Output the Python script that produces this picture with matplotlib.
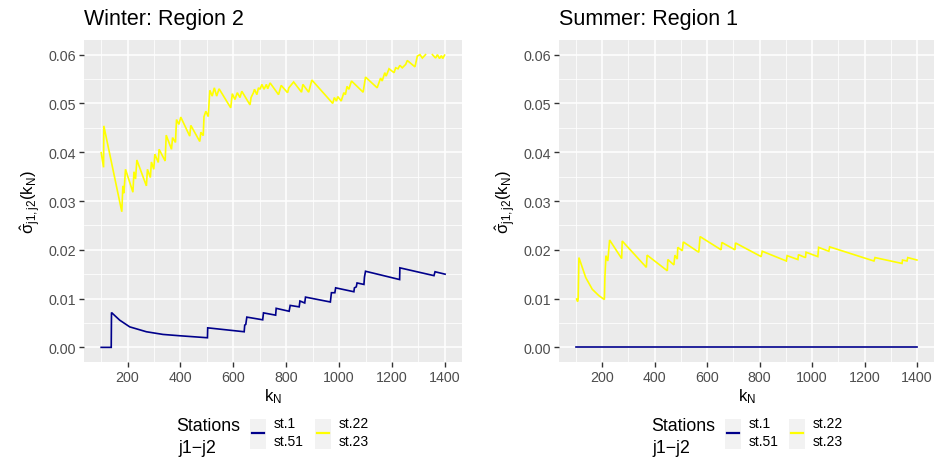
import numpy as np
import matplotlib
matplotlib.use("Agg")
import matplotlib.pyplot as plt
from matplotlib.patches import Rectangle
from matplotlib.lines import Line2D

plt.rcParams['font.family'] = ['Liberation Sans', 'DejaVu Sans']
plt.rcParams['mathtext.fontset'] = 'custom'
plt.rcParams['mathtext.rm'] = 'Liberation Sans'
plt.rcParams['mathtext.it'] = 'Liberation Sans'
plt.rcParams['mathtext.bf'] = 'Liberation Sans:bold'

# ---------------- data ----------------
panel_titles = ["Winter: Region 2", "Summer: Region 1"]
series_labels = ["st.1\nst.51", "st.22\nst.23"]
series_colors = ["#00008B", "#FFFF00"]
x_ticks = [200, 400, 600, 800, 1000, 1200, 1400]
y_ticks = [0.00, 0.01, 0.02, 0.03, 0.04, 0.05, 0.06]

winter_st1_x = [100, 138, 139, 170, 208, 271, 334, 397, 502, 503, 641, 643, 647, 651, 711, 714,
                760, 762, 811, 815, 849, 852, 870, 873, 967, 971, 984, 987, 1056, 1058, 1065,
                1068, 1094, 1096, 1100, 1229, 1230, 1359, 1363, 1401]
winter_st1_y = [0.0, 0.0, 0.00714, 0.00558, 0.0042, 0.0032, 0.00265, 0.00238, 0.00197, 0.0040,
                0.0032, 0.00456, 0.0047, 0.0062, 0.00565, 0.00707, 0.0066, 0.0080, 0.0074, 0.0086,
                0.0083, 0.0095, 0.0091, 0.0103, 0.0093, 0.0112, 0.0112, 0.0122, 0.0114, 0.0122,
                0.0124, 0.0132, 0.0129, 0.0144, 0.0156, 0.0139, 0.0163, 0.0147, 0.0155, 0.0150]

winter_st22_x = [100, 109, 110, 178, 182, 186, 192, 220, 224, 230, 235, 271, 275, 286, 290, 299,
                 303, 316, 319, 342, 346, 366, 370, 381, 385, 394, 401, 435, 439, 473, 477, 486,
                 489, 496, 505, 511, 520, 528, 537, 546, 590, 596, 606, 615, 625, 632, 663, 667,
                 676, 680, 689, 695, 701, 708, 716, 725, 730, 739, 771, 781, 805, 810, 828, 858,
                 863, 885, 897, 976, 982, 990, 995, 1008, 1018, 1024, 1030, 1037, 1047, 1091,
                 1100, 1144, 1157, 1163, 1173, 1178, 1189, 1208, 1214, 1223, 1230, 1239, 1252,
                 1258, 1287, 1296, 1306, 1315, 1327, 1340, 1353, 1365, 1372, 1380, 1387, 1392, 1399]
winter_st22_y = [0.0399, 0.0369, 0.0454, 0.0278, 0.0331, 0.0316, 0.0365, 0.0318, 0.0360, 0.0345,
                 0.0384, 0.0331, 0.0365, 0.0348, 0.0380, 0.0365, 0.0396, 0.0379, 0.0406, 0.0382,
                 0.0435, 0.0406, 0.0430, 0.0420, 0.0467, 0.0457, 0.0472, 0.0433, 0.0455, 0.0422,
                 0.0441, 0.0434, 0.0473, 0.0484, 0.0473, 0.0527, 0.0515, 0.0532, 0.0515, 0.0530,
                 0.0491, 0.0520, 0.0508, 0.0522, 0.0512, 0.0525, 0.0497, 0.0512, 0.0522, 0.0529,
                 0.0518, 0.0532, 0.0529, 0.0539, 0.0529, 0.0539, 0.0530, 0.0542, 0.0518, 0.0537,
                 0.0522, 0.0532, 0.0544, 0.0523, 0.0539, 0.0523, 0.0548, 0.0500, 0.0512, 0.0505,
                 0.0514, 0.0505, 0.0522, 0.0518, 0.0535, 0.0529, 0.0546, 0.0523, 0.0554, 0.0532,
                 0.0552, 0.0546, 0.0563, 0.0556, 0.0571, 0.0563, 0.0573, 0.0571, 0.0578, 0.0573,
                 0.0580, 0.0588, 0.0575, 0.0597, 0.0600, 0.0593, 0.0600, np.nan, 0.0600, 0.0593,
                 0.0600, 0.0592, 0.0598, 0.0592, 0.0599]

summer_st1_x = [100, 1400]
summer_st1_y = [0.0, 0.0]

summer_st22_x = [102, 106, 108, 111, 137, 162, 187, 208, 210, 214, 221, 228, 274, 276, 368, 371,
                 448, 450, 473, 477, 486, 488, 505, 509, 568, 573, 653, 656, 706, 708, 806, 810,
                 902, 905, 946, 948, 975, 977, 1022, 1025, 1064, 1067, 1236, 1240, 1343, 1345,
                 1362, 1365, 1400]
summer_st22_y = [0.0099, 0.0094, 0.0099, 0.0184, 0.0143, 0.0119, 0.0106, 0.0098, 0.0143, 0.0188,
                 0.0177, 0.0220, 0.0182, 0.0218, 0.0164, 0.0189, 0.0157, 0.0180, 0.0169, 0.0189,
                 0.0181, 0.0205, 0.0198, 0.0216, 0.0195, 0.0227, 0.0200, 0.0215, 0.0200, 0.0214,
                 0.0186, 0.0197, 0.0177, 0.0188, 0.0180, 0.0190, 0.0184, 0.0195, 0.0186, 0.0205,
                 0.0197, 0.0206, 0.0177, 0.0184, 0.0172, 0.0179, 0.0177, 0.0184, 0.0179]

panels = [
    [(winter_st1_x, winter_st1_y), (winter_st22_x, winter_st22_y)],
    [(summer_st1_x, summer_st1_y), (summer_st22_x, summer_st22_y)],
]

# ---------------- figure ----------------
W, H = 936, 460
fig = plt.figure(figsize=(W / 100, H / 100), dpi=100)

def fx(px):
    return px / W

def fy(py):
    return 1 - py / H

axes_px = [(84, 41, 462, 363), (559, 41, 934, 363)]
legend_px = [dict(title_x=176, key1=250, key2=315), dict(title_x=651, key1=725, key2=789)]
ylabel_x = [31, 506]

for i, (l, t, r, b) in enumerate(axes_px):
    ax = fig.add_axes([fx(l), fy(b), fx(r - l), (b - t) / H])
    ax.set_facecolor("#EBEBEB")
    for s in ax.spines.values():
        s.set_visible(False)
    ax.set_xlim(35, 1465)
    ax.set_ylim(-0.003, 0.063)
    ax.set_xticks(x_ticks)
    ax.set_xticklabels([str(v) for v in x_ticks])
    ax.set_yticks(y_ticks)
    ax.set_yticklabels([f"{v:.2f}" for v in y_ticks])
    ax.set_xticks([100, 300, 500, 700, 900, 1100, 1300], minor=True)
    ax.set_yticks([0.005, 0.015, 0.025, 0.035, 0.045, 0.055], minor=True)
    ax.grid(which="major", color="white", linewidth=1.1)
    ax.grid(which="minor", color="white", linewidth=0.55)
    ax.set_axisbelow(True)
    ax.tick_params(which="major", length=3.5, width=1.0, color="#333333",
                   labelcolor="#4D4D4D", labelsize=10.3, pad=2)
    ax.tick_params(which="minor", length=0)
    for (xs, ys), c in zip(panels[i], series_colors):
        ax.plot(xs, ys, color=c, linewidth=1.2, solid_joinstyle="miter")
    fig.text(fx(l), fy(20), panel_titles[i], fontsize=15.5, ha="left", va="center", color="black")
    fig.text(fx((l + r) / 2), fy(397), r"$\mathrm{k_N}$", fontsize=12, ha="center", va="center")
    fig.text(fx(ylabel_x[i]), fy((t + b) / 2), r"$\hat{\sigma}_{j1,j2}(\mathrm{k_N})$",
             fontsize=12, ha="center", va="center", rotation=90)

    # legend
    lg = legend_px[i]
    fig.text(fx(lg["title_x"]), fy(427), "Stations", fontsize=12.8, ha="left", va="center")
    fig.text(fx(lg["title_x"] + 2), fy(449), "j1\u2212j2", fontsize=12.8, ha="left", va="center")
    for kx, c, lab in zip([lg["key1"], lg["key2"]], series_colors, series_labels):
        fig.add_artist(Rectangle((fx(kx), fy(450)), fx(16), 30 / H, transform=fig.transFigure,
                                 facecolor="#F2F2F2", edgecolor="none"))
        fig.add_artist(Line2D([fx(kx + 2), fx(kx + 14)], [fy(434), fy(434)], transform=fig.transFigure,
                              color=c, linewidth=1.6))
        fig.text(fx(kx + 24), fy(433), lab, fontsize=10, ha="left", va="center", linespacing=1.3)

fig.savefig("out.png", dpi=100)
